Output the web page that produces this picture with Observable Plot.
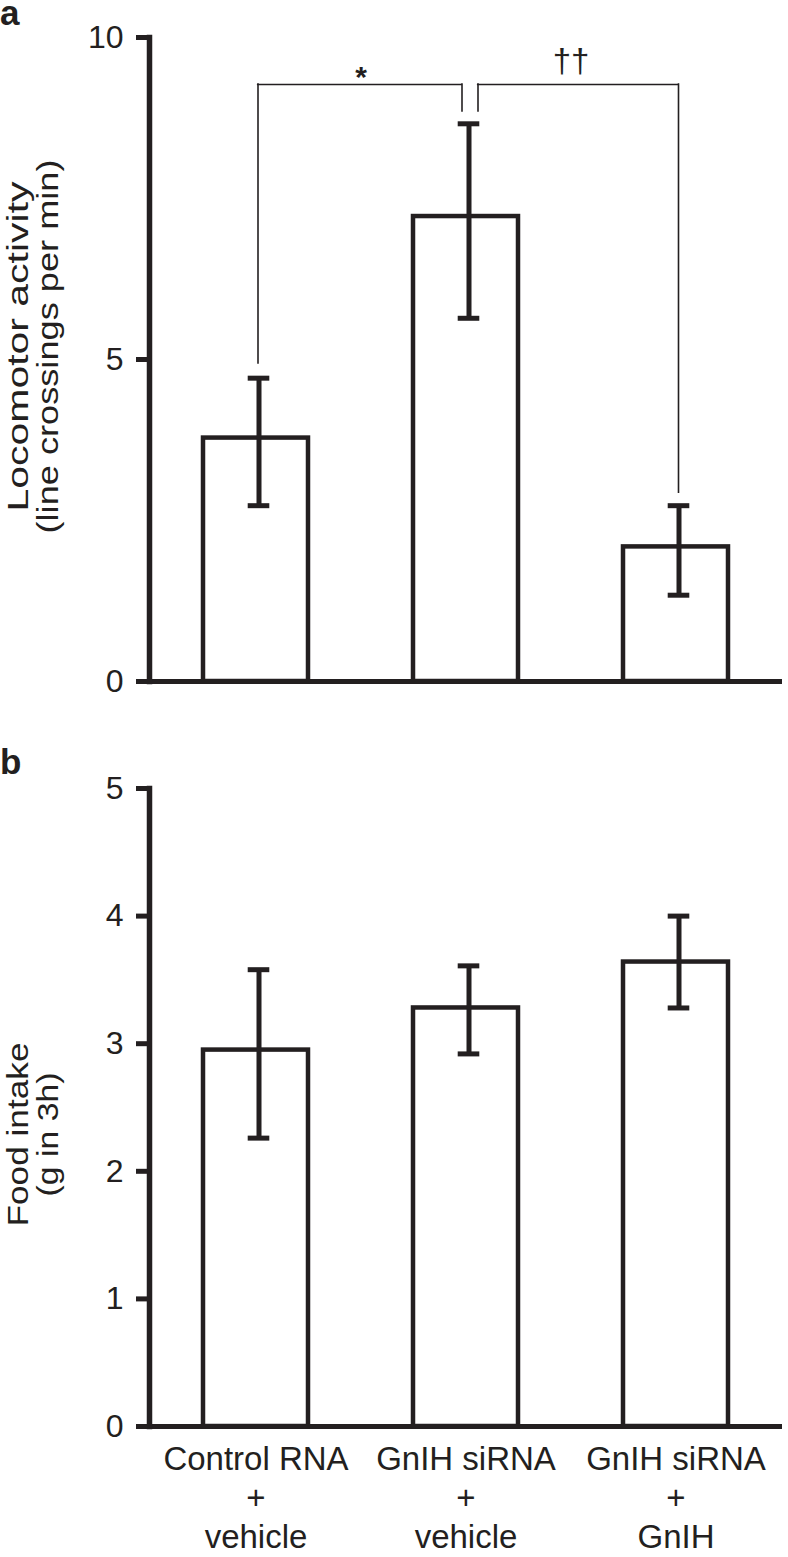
<!DOCTYPE html>
<html><head><meta charset="utf-8">
<script src="https://cdn.jsdelivr.net/npm/d3@7"></script>
<script src="https://cdn.jsdelivr.net/npm/@observablehq/plot@0.6"></script>
<style>
body{margin:0;background:#fff;}
#wrap{position:relative;width:788px;height:1557px;overflow:hidden;font-family:"Liberation Sans",Arial,Helvetica,sans-serif;color:#231f20;}
.panel-letter{position:absolute;left:0;font-weight:bold;font-size:35px;line-height:25px;}
#pa,#pb{position:absolute;left:0;}
</style></head>
<body><div id="wrap">
<div id="pa" style="top:0"></div>
<div id="pb" style="top:740px"></div>
<div class="panel-letter" style="top:0px">a</div>
<div class="panel-letter" style="top:749px">b</div>
</div>
<script>
// ---- data ----
const groups = ["Control RNA", "GnIH siRNA", "GnIH siRNA"];
const treatments = ["vehicle", "vehicle", "GnIH"];
const categories = groups.map((g, i) => `${g}\n+\n${treatments[i]}`);

const locoMean = [3.78, 7.22, 2.09];
const locoLow = [2.73, 5.64, 1.34];
const locoHigh = [4.71, 8.66, 2.73];
const locoTicks = [0, 5, 10];

const foodMean = [2.95, 3.28, 3.64];
const foodLow = [2.26, 2.92, 3.28];
const foodHigh = [3.58, 3.61, 4.00];
const foodTicks = [0, 1, 2, 3, 4, 5];

const bracketFrom = [0, 1];
const bracketTo = [1, 2];
const bracketTop = [9.27, 9.27];
const bracketFromEnd = [4.94, 8.85];
const bracketToEnd = [8.85, 2.93];
const bracketLabel = ["*", "\u2020\u2020"];

// ---- style ----
const ink = "#231f20";
const font = "'Liberation Sans', Arial, Helvetica, sans-serif";
const xRange = [201.5, 728.5];
const padInner = 0.5;
const xScale = {type: "band", domain: categories, range: xRange, paddingInner: padInner, paddingOuter: 0};
const bandwidth = (xRange[1] - xRange[0]) / (categories.length - padInner) * (1 - padInner);
const bracketOffsets = [[2, -4], [12, 2.5]];
const labelStyle = [{fontSize: 30, fontWeight: "bold", dy: -7}, {fontSize: 33, fontWeight: "normal", dy: -23}];

function table(mean, low, high) {
  return categories.map((c, i) => ({cat: c, mean: mean[i], low: low[i], high: high[i]}));
}

function barMarks(data) {
  const capInset = (bandwidth - 22) / 2;
  return [
    Plot.barY(data, {x: "cat", y: "mean", fill: "white", stroke: ink, strokeWidth: 4.5, strokeLinejoin: "miter"}),
    Plot.ruleX(data, {x: "cat", y1: "low", y2: "high", stroke: ink, strokeWidth: 5, dx: 3}),
    Plot.tickY(data, {x: "cat", y: "low", stroke: ink, strokeWidth: 5, dx: 3, insetLeft: capInset, insetRight: capInset}),
    Plot.tickY(data, {x: "cat", y: "high", stroke: ink, strokeWidth: 5, dx: 3, insetLeft: capInset, insetRight: capInset}),
    Plot.ruleY([0], {stroke: ink, strokeWidth: 5}),
    Plot.frame({anchor: "left", stroke: ink, strokeWidth: 5.5, strokeLinecap: "square"})
  ];
}

function bracketMarks(i) {
  const b = [{
    from: categories[bracketFrom[i]], to: categories[bracketTo[i]],
    top: bracketTop[i], fromEnd: bracketFromEnd[i], toEnd: bracketToEnd[i], label: bracketLabel[i]
  }];
  const [oL, oR] = bracketOffsets[i];
  const thin = {stroke: ink, strokeWidth: 1.6, strokeLinecap: "square"};
  return [
    Plot.ruleX(b, {x: "from", y1: "fromEnd", y2: "top", dx: oL, ...thin}),
    Plot.ruleX(b, {x: "to", y1: "toEnd", y2: "top", dx: oR, ...thin}),
    Plot.ruleY(b, {y: "top", x1: "from", x2: "to", insetLeft: bandwidth / 2 + oL, insetRight: bandwidth / 2 - oR, ...thin}),
    Plot.text(b, {x: "from", y: "top", text: "label", dx: 105, dy: labelStyle[i].dy,
      fontSize: labelStyle[i].fontSize, fontWeight: labelStyle[i].fontWeight, lineAnchor: "middle", textAnchor: "middle", fill: ink})
  ];
}

function yLabel(lines, dy, id) {
  const common = {text: d => d, frameAnchor: "left", rotate: -90, dy, fontSize: 29,
    lineAnchor: "middle", textAnchor: "middle", fill: ink};
  return [
    Plot.text([lines[0]], {...common, dx: -131, ariaLabel: () => id + "-1"}),
    Plot.text([lines[1]], {...common, dx: -101, ariaLabel: () => id + "-2"})
  ];
}

function stretch(svg, id, len) {
  const sel = d3.select(svg).selectAll(`[aria-label="${id}"]`);
  sel.filter(function() { return this.tagName.toLowerCase() === "text"; })
    .attr("textLength", len).attr("lengthAdjust", "spacingAndGlyphs");
  sel.selectAll("text").attr("textLength", len).attr("lengthAdjust", "spacingAndGlyphs");
}

// ---- panel a ----
const pa = Plot.plot({
  width: 788, height: 700,
  marginTop: 37, marginBottom: 19, marginLeft: 149, marginRight: 6,
  style: {fontFamily: font, fontSize: "32px", color: ink, background: "transparent", overflow: "visible"},
  x: {...xScale, axis: null},
  y: {domain: [0, 10]},
  marks: [
    ...barMarks(table(locoMean, locoLow, locoHigh)),
    Plot.axisY({ticks: locoTicks, tickFormat: d3.format("d"), tickSize: 13, tickPadding: 13, stroke: ink, strokeWidth: 5, fontSize: 32, label: null, fill: ink}),
    ...bracketMarks(0),
    ...bracketMarks(1),
    ...yLabel(["Locomotor activity", "(line crossings per min)"], -13, "ya")
  ]
});
document.getElementById("pa").appendChild(pa);
stretch(pa, "ya-1", 330);
stretch(pa, "ya-2", 374);

// ---- panel b ----
const pb = Plot.plot({
  width: 788, height: 817,
  marginTop: 48, marginBottom: 131, marginLeft: 149, marginRight: 6,
  style: {fontFamily: font, fontSize: "32px", color: ink, background: "transparent", overflow: "visible"},
  x: {...xScale},
  y: {domain: [0, 5]},
  marks: [
    ...barMarks(table(foodMean, foodLow, foodHigh)),
    Plot.axisY({ticks: foodTicks, tickFormat: d3.format("d"), tickSize: 13, tickPadding: 13, stroke: ink, strokeWidth: 5, fontSize: 32, label: null, fill: ink}),
    Plot.axisX({tickSize: 0, tickPadding: 16, fontSize: 33, lineHeight: 1.18, label: null, fill: ink}),
    ...yLabel(["Food intake", "(g in 3h)"], 27, "yb")
  ]
});
document.getElementById("pb").appendChild(pb);
stretch(pb, "yb-1", 184);
stretch(pb, "yb-2", 124);
</script>
</body></html>
